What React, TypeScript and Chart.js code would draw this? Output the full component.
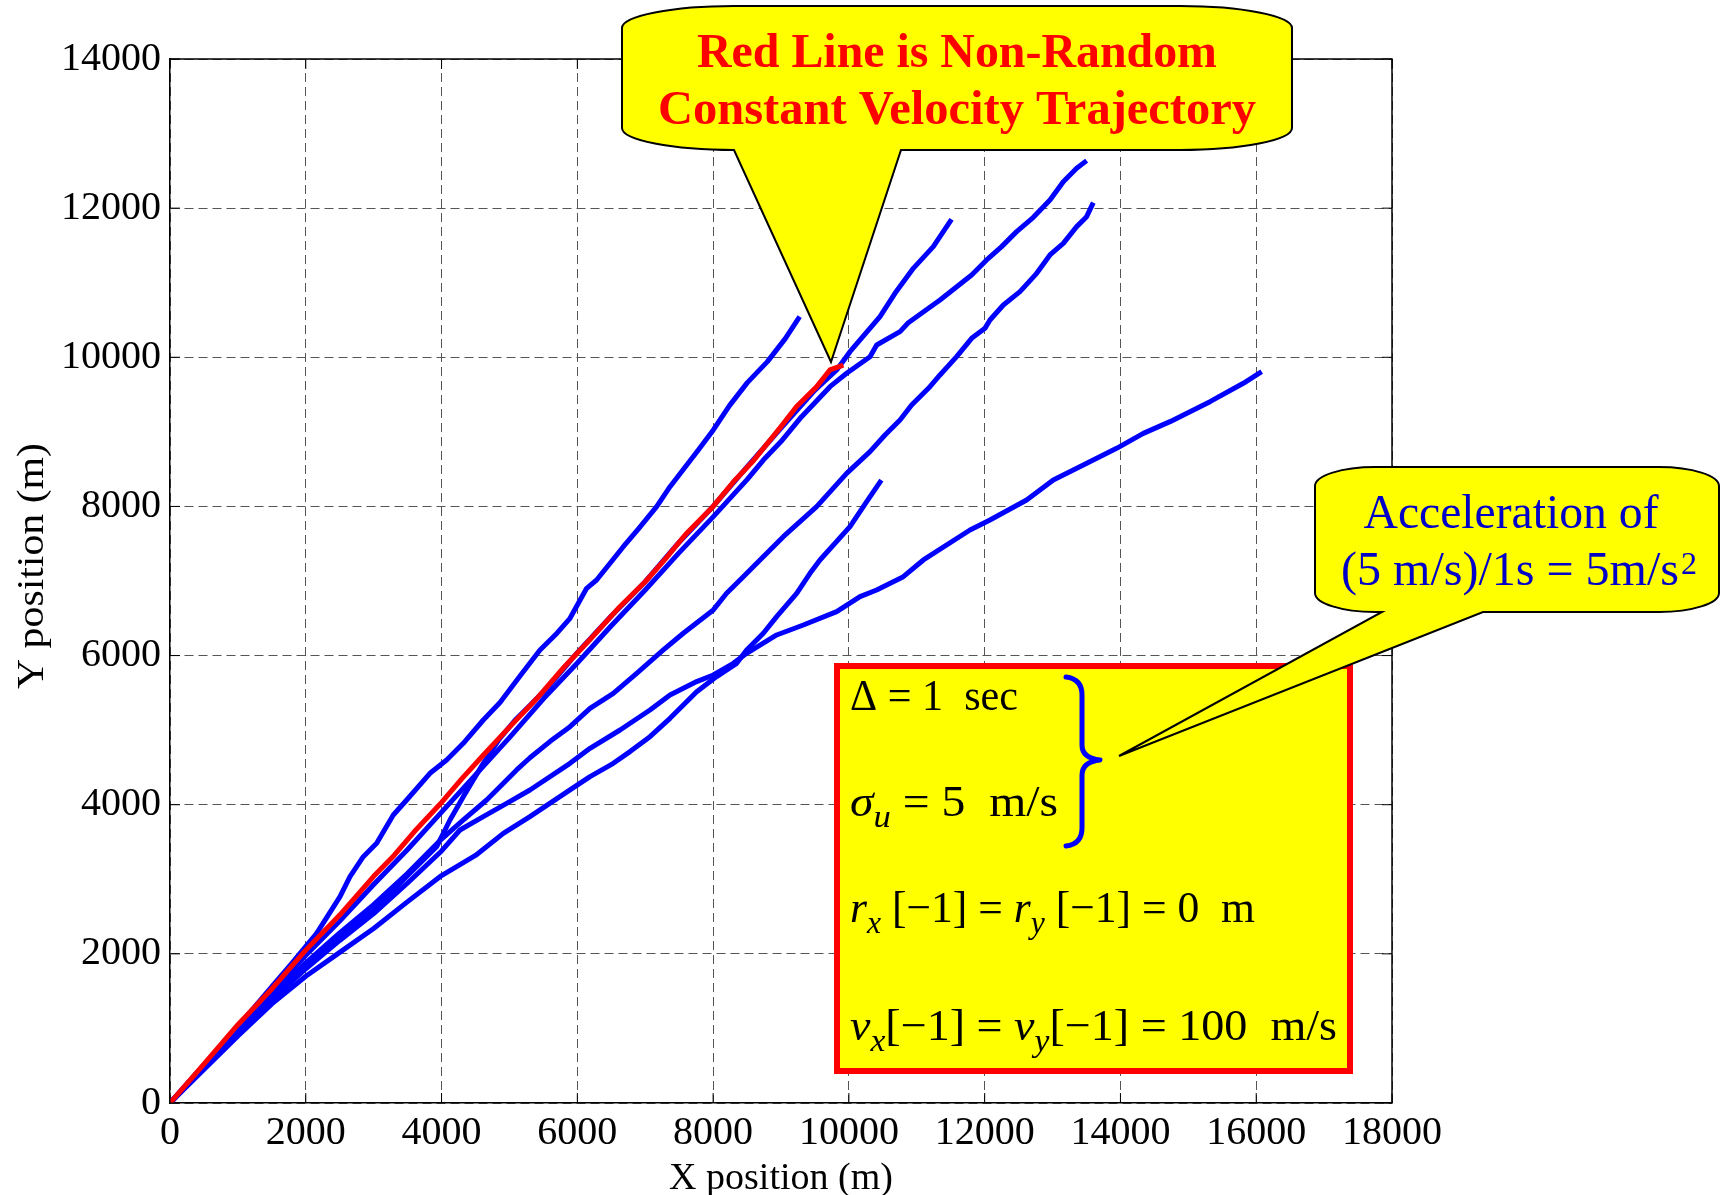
import React, { useEffect, useRef } from "react";
import { Chart, registerables } from "chart.js";

Chart.register(...registerables);

const SERIF = '"Liberation Serif", "Times New Roman", Times, serif';

// ---- axis ticks ----
const xTickValues = [0, 2000, 4000, 6000, 8000, 10000, 12000, 14000, 16000, 18000];
const yTickValues = [0, 2000, 4000, 6000, 8000, 10000, 12000, 14000];
const xTitle = "X position (m)";
const yTitle = "Y position (m)";

// ---- red: non-random constant velocity trajectory ----
const redX = [0, 500, 1000, 1500, 2000, 2500, 3000, 3300, 3600, 4000, 4300, 4600, 5000, 5400, 5800, 6200, 6600, 7000, 7300, 7600, 8000, 8300, 8600, 9000, 9230, 9520, 9720, 9918];
const redY = [0, 520, 1050, 1530, 2050, 2520, 3040, 3320, 3640, 4030, 4350, 4650, 5040, 5420, 5840, 6230, 6630, 6990, 7300, 7630, 8000, 8330, 8620, 9070, 9340, 9600, 9830, 9896];

// ---- blue random trajectories ----
const aX = [0, 300, 700, 1100, 1500, 1800, 2160, 2504, 2651, 2847, 3044, 3289, 3486, 3829, 4075, 4320, 4615, 4861, 5150, 5450, 5700, 5892, 6137, 6284, 6677, 6900, 7168, 7365, 7782, 8003, 8241, 8504, 8800, 9063, 9275];
const aY = [0, 310, 720, 1130, 1560, 1880, 2275, 2767, 3035, 3303, 3482, 3862, 4063, 4421, 4600, 4823, 5136, 5370, 5720, 6075, 6300, 6500, 6902, 7013, 7460, 7700, 7997, 8265, 8756, 9025, 9352, 9660, 9942, 10250, 10545];

const bX = [0, 500, 1000, 1500, 2000, 2500, 3000, 3500, 3930, 4124, 4320, 4615, 4850, 5100, 5300, 5600, 6000, 6500, 7000, 7500, 8000, 8500, 9000, 9500, 9820, 10016, 10458, 10679, 10949, 11243, 11489, 11513];
const bY = [0, 470, 950, 1400, 1820, 2210, 2580, 3050, 3440, 3795, 4108, 4555, 4880, 5150, 5330, 5610, 6040, 6530, 6990, 7520, 8000, 8530, 9050, 9560, 9829, 10075, 10545, 10858, 11193, 11484, 11819, 11850];

const cX = [0, 500, 1000, 1500, 2000, 2500, 3000, 3500, 4000, 4500, 5000, 5500, 6000, 6500, 7000, 7500, 8000, 8500, 8740, 9000, 9300, 9722, 9967, 10311, 10409, 10753, 10875, 11342, 11808, 12029, 12250, 12471, 12717, 12962, 13158, 13355, 13502];
const cY = [0, 490, 1010, 1480, 1980, 2440, 2930, 3400, 3900, 4400, 4900, 5420, 5900, 6400, 6880, 7380, 7860, 8360, 8622, 8870, 9200, 9606, 9785, 10008, 10165, 10344, 10464, 10768, 11104, 11305, 11484, 11685, 11877, 12109, 12355, 12534, 12637];

const dX = [0, 500, 1000, 1500, 2000, 2500, 3000, 3500, 4000, 4300, 4664, 5106, 5302, 5600, 5892, 6187, 6530, 6874, 7267, 7561, 8003, 8199, 8445, 8691, 9034, 9525, 9967, 10311, 10532, 10753, 10924, 11194, 11342, 11587, 11808, 12004, 12078, 12275, 12520, 12766, 12962, 13158, 13355, 13502, 13600];
const dY = [0, 480, 960, 1420, 1880, 2280, 2660, 3080, 3540, 3780, 4063, 4466, 4630, 4850, 5047, 5293, 5494, 5762, 6075, 6299, 6612, 6835, 7058, 7282, 7594, 7997, 8444, 8734, 8958, 9159, 9360, 9606, 9763, 10008, 10254, 10388, 10500, 10701, 10880, 11126, 11372, 11528, 11752, 11886, 12074];

const eX = [0, 500, 1000, 1500, 2000, 2500, 3000, 3500, 4000, 4271, 4615, 4959, 5302, 5892, 6187, 6629, 7070, 7365, 7758, 8003, 8298, 8494, 8936, 9329, 9820, 10164, 10409, 10802, 11097, 11784, 12078, 12618, 13011, 13453, 13944, 14337, 14730, 15319, 15810, 16080];
const eY = [0, 475, 930, 1380, 1800, 2180, 2540, 2950, 3380, 3661, 3840, 4018, 4197, 4555, 4757, 5002, 5270, 5472, 5651, 5740, 5896, 6030, 6276, 6410, 6589, 6790, 6880, 7058, 7282, 7684, 7818, 8086, 8355, 8556, 8779, 8980, 9137, 9405, 9651, 9807];

const fX = [0, 500, 1000, 1500, 2000, 2500, 3000, 3500, 4000, 4500, 4910, 5302, 5892, 6187, 6530, 6776, 7070, 7365, 7758, 8052, 8347, 8494, 8740, 8936, 9231, 9427, 9574, 10016, 10262, 10478];
const fY = [0, 450, 900, 1330, 1700, 2020, 2340, 2700, 3050, 3320, 3616, 3840, 4198, 4377, 4555, 4712, 4913, 5159, 5516, 5718, 5896, 6075, 6299, 6522, 6835, 7103, 7282, 7729, 8064, 8352];

// ---- annotation texts ----
const callout1Lines = ["Red Line is Non-Random", "Constant Velocity Trajectory"];
const callout2Line1 = "Acceleration of";
const callout2Line2 = "(5 m/s)/1s = 5m/s";
const callout2Sup = "2";

type Seg = { t: string; it?: boolean; sub?: boolean };
const boxLines: Seg[][] = [
  [{ t: "\u0394" }, { t: " = 1  sec" }],
  [{ t: "\u03C3", it: true }, { t: "u", it: true, sub: true }, { t: " = 5  m/s" }],
  [{ t: "r", it: true }, { t: "x", it: true, sub: true }, { t: " [\u22121] = " }, { t: "r", it: true }, { t: "y", it: true, sub: true }, { t: " [\u22121] = 0  m" }],
  [{ t: "v", it: true }, { t: "x", it: true, sub: true }, { t: "[\u22121] = " }, { t: "v", it: true }, { t: "y", it: true, sub: true }, { t: "[\u22121] = 100  m/s" }],
];

const pts = (xs: number[], ys: number[]) => xs.map((x, i) => ({ x, y: ys[i] }));

function fitText(ctx: CanvasRenderingContext2D, text: string, cx: number, baseline: number, width: number, font: string, color: string) {
  ctx.save();
  ctx.font = font;
  ctx.fillStyle = color;
  ctx.textAlign = "left";
  ctx.textBaseline = "alphabetic";
  const w = ctx.measureText(text).width;
  ctx.translate(cx - width / 2, baseline);
  ctx.scale(width / w, 1);
  ctx.fillText(text, 0, 0);
  ctx.restore();
}

function drawRich(ctx: CanvasRenderingContext2D, segs: Seg[], x: number, baseline: number, width: number, size: number) {
  const fontFor = (s: Seg) => `${s.it ? "italic " : ""}${s.sub ? Math.round(size * 0.72) : size}px ${SERIF}`;
  let total = 0;
  for (const s of segs) {
    ctx.font = fontFor(s);
    total += ctx.measureText(s.t).width;
  }
  ctx.save();
  ctx.fillStyle = "#000";
  ctx.textAlign = "left";
  ctx.textBaseline = "alphabetic";
  ctx.translate(x, baseline);
  ctx.scale(width / total, 1);
  let cx = 0;
  for (const s of segs) {
    ctx.font = fontFor(s);
    ctx.fillText(s.t, cx, s.sub ? size * 0.24 : 0);
    cx += ctx.measureText(s.t).width;
  }
  ctx.restore();
}

function calloutPath(ctx: CanvasRenderingContext2D, L: number, T: number, R: number, B: number, rx: number, ry: number, pL: number, pR: number, tipX: number, tipY: number) {
  const k = 0.45;
  ctx.beginPath();
  ctx.moveTo(L + rx, T);
  ctx.lineTo(R - rx, T);
  ctx.bezierCurveTo(R - rx * k, T, R, T + ry * k, R, T + ry);
  ctx.lineTo(R, B - ry);
  ctx.bezierCurveTo(R, B - ry * k, R - rx * k, B, R - rx, B);
  ctx.lineTo(pR, B);
  ctx.lineTo(tipX, tipY);
  ctx.lineTo(pL, B);
  ctx.lineTo(L + rx, B);
  ctx.bezierCurveTo(L + rx * k, B, L, B - ry * k, L, B - ry);
  ctx.lineTo(L, T + ry);
  ctx.bezierCurveTo(L, T + ry * k, L + rx * k, T, L + rx, T);
  ctx.closePath();
}

const overlayPlugin = {
  id: "overlay",
  afterDatasetsDraw(chart: any) {
    const ctx: CanvasRenderingContext2D = chart.ctx;
    const { left, right, top, bottom } = chart.chartArea;
    const xs = chart.scales.x;
    const ys = chart.scales.y;
    ctx.save();
    ctx.strokeStyle = "#000";
    ctx.lineWidth = 1.5;
    ctx.beginPath();
    ctx.moveTo(left, top);
    ctx.lineTo(right, top);
    ctx.lineTo(right, bottom);
    ctx.stroke();
    ctx.lineWidth = 1;
    ctx.beginPath();
    const tl = 10;
    for (const v of xTickValues) {
      const p = xs.getPixelForValue(v);
      ctx.moveTo(p, bottom);
      ctx.lineTo(p, bottom - tl);
      ctx.moveTo(p, top);
      ctx.lineTo(p, top + tl);
    }
    for (const v of yTickValues) {
      const p = ys.getPixelForValue(v);
      ctx.moveTo(left, p);
      ctx.lineTo(left + tl, p);
      ctx.moveTo(right, p);
      ctx.lineTo(right - tl, p);
    }
    ctx.stroke();
    ctx.restore();
  },
  afterDraw(chart: any) {
    const ctx: CanvasRenderingContext2D = chart.ctx;
    const { top, bottom } = chart.chartArea;
    ctx.save();
    // y axis title (vertically stretched like the reference)
    ctx.save();
    ctx.translate(43, (top + bottom) / 2 - 15);
    ctx.rotate(-Math.PI / 2);
    fitText(ctx, yTitle, 0, 0, 246, `38px ${SERIF}`, "#000");
    ctx.restore();
    // parameter box
    ctx.fillStyle = "#FFFF00";
    ctx.fillRect(834, 663, 519, 411);
    ctx.strokeStyle = "#FF0000";
    ctx.lineWidth = 6;
    ctx.strokeRect(837, 666, 513, 405);
    drawRich(ctx, boxLines[0], 850, 710, 168, 44);
    drawRich(ctx, boxLines[1], 850, 816, 208, 44);
    drawRich(ctx, boxLines[2], 850, 922, 405, 44);
    drawRich(ctx, boxLines[3], 850, 1040, 487, 44);
    // brace
    ctx.strokeStyle = "#0000FF";
    ctx.lineWidth = 5;
    ctx.lineCap = "round";
    ctx.lineJoin = "round";
    ctx.beginPath();
    ctx.moveTo(1066, 677);
    ctx.quadraticCurveTo(1082, 679, 1082, 695);
    ctx.lineTo(1082, 745);
    ctx.quadraticCurveTo(1082, 758, 1100, 760);
    ctx.quadraticCurveTo(1082, 762, 1082, 775);
    ctx.lineTo(1082, 828);
    ctx.quadraticCurveTo(1082, 844, 1066, 846);
    ctx.stroke();
    // callout 1
    ctx.lineCap = "butt";
    ctx.lineJoin = "miter";
    calloutPath(ctx, 622, 6, 1292, 150, 112, 22, 734, 901, 831, 362);
    ctx.fillStyle = "#FFFF00";
    ctx.fill();
    ctx.strokeStyle = "#000";
    ctx.lineWidth = 2;
    ctx.stroke();
    fitText(ctx, callout1Lines[0], 957, 67, 520, `bold 48px ${SERIF}`, "#FF0000");
    fitText(ctx, callout1Lines[1], 957, 124, 598, `bold 48px ${SERIF}`, "#FF0000");
    // callout 2
    calloutPath(ctx, 1315, 467, 1719, 612, 60, 19, 1382, 1483, 1119, 756);
    ctx.fillStyle = "#FFFF00";
    ctx.fill();
    ctx.strokeStyle = "#000";
    ctx.lineWidth = 2;
    ctx.stroke();
    fitText(ctx, callout2Line1, 1511, 528, 295, `48px ${SERIF}`, "#0000C8");
    fitText(ctx, callout2Line2, 1341 + 169, 585, 338, `48px ${SERIF}`, "#0000C8");
    ctx.font = `32px ${SERIF}`;
    ctx.fillStyle = "#0000C8";
    ctx.textAlign = "left";
    ctx.textBaseline = "alphabetic";
    ctx.fillText(callout2Sup, 1681, 574);
    ctx.restore();
  },
};

export default function App() {
  const ref = useRef<HTMLCanvasElement>(null);
  useEffect(() => {
    const blue = "#0000FF";
    const series = [
      { d: pts(redX, redY), c: "#FF0000" },
      { d: pts(aX, aY), c: blue },
      { d: pts(bX, bY), c: blue },
      { d: pts(cX, cY), c: blue },
      { d: pts(dX, dY), c: blue },
      { d: pts(eX, eY), c: blue },
      { d: pts(fX, fY), c: blue },
    ];
    const tickFont = { family: SERIF, size: 40 };
    const titleFont = { family: SERIF, size: 38 };
    const chart = new Chart(ref.current as HTMLCanvasElement, {
      type: "scatter",
      data: {
        datasets: series.map((s) => ({
          data: s.d,
          showLine: true,
          borderColor: s.c,
          backgroundColor: s.c,
          borderWidth: 5,
          pointRadius: 0,
          tension: 0,
          borderJoinStyle: "round",
        })),
      } as any,
      options: {
        responsive: false,
        maintainAspectRatio: false,
        animation: false,
        layout: { padding: { left: 0, top: 59, right: 333, bottom: 0 } },
        plugins: { legend: { display: false }, tooltip: { enabled: false } },
        scales: {
          x: {
            type: "linear",
            min: 0,
            max: 18000,
            afterBuildTicks: (s: any) => {
              s.ticks = xTickValues.map((v) => ({ value: v }));
            },
            ticks: { color: "#000", font: tickFont, padding: 6, maxRotation: 0, autoSkip: false, callback: (v: any) => String(v) },
            grid: { color: "#555", lineWidth: 1, drawTicks: false },
            border: { display: true, color: "#000", width: 1.5, dash: [9, 5] },
            title: { display: true, text: xTitle, color: "#000", font: titleFont, padding: { top: 0, bottom: -7 } },
            afterFit: (s: any) => {
              s.height = 92;
            },
          },
          y: {
            type: "linear",
            min: 0,
            max: 14000,
            afterBuildTicks: (s: any) => {
              s.ticks = yTickValues.map((v) => ({ value: v }));
            },
            ticks: { color: "#000", font: tickFont, padding: 9, autoSkip: false, callback: (v: any) => String(v) },
            grid: { color: "#555", lineWidth: 1, drawTicks: false },
            border: { display: true, color: "#000", width: 1.5, dash: [9, 5] },
            title: { display: false, text: yTitle },
            afterFit: (s: any) => {
              s.width = 170;
            },
          },
        },
      } as any,
      plugins: [overlayPlugin],
    });
    return () => chart.destroy();
  }, []);
  return (
    <div style={{ position: "fixed", left: 0, top: 0, width: 1725, height: 1195, background: "#fff" }}>
      <canvas ref={ref} width={1725} height={1195} style={{ display: "block", width: 1725, height: 1195 }} />
    </div>
  );
}
